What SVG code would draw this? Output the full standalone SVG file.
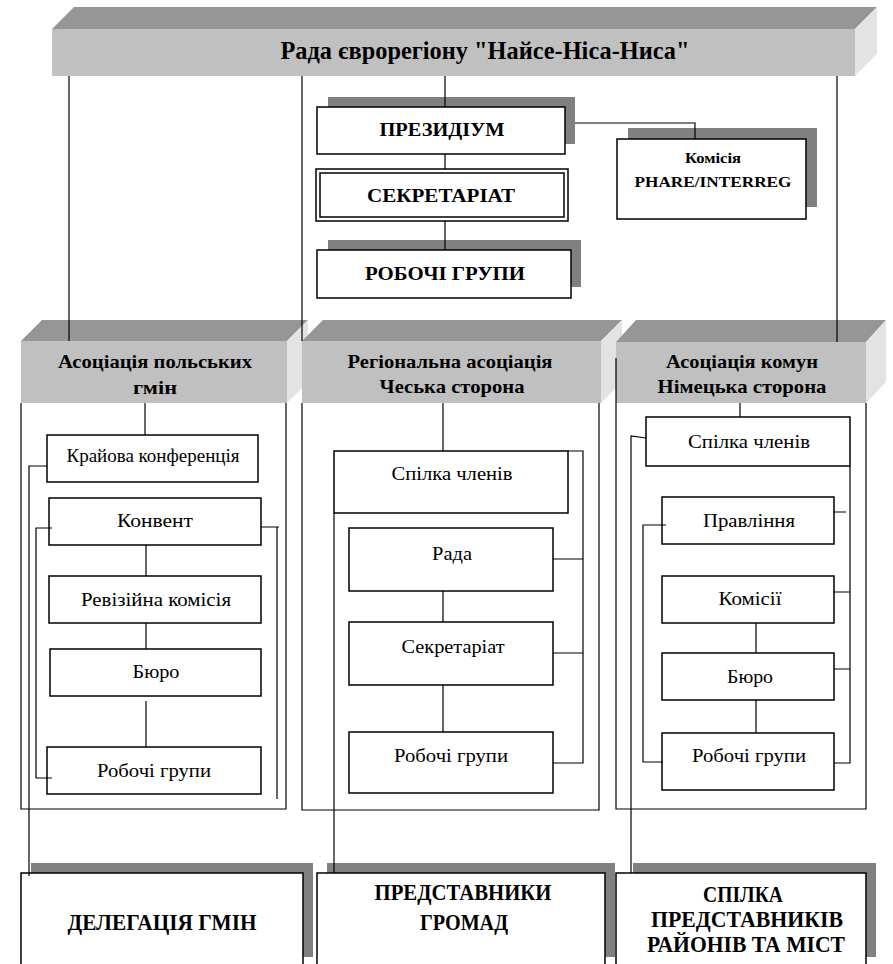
<svg xmlns="http://www.w3.org/2000/svg" width="893" height="964" viewBox="0 0 893 964">
<style>
.bg{fill:#ffffff}
.front{fill:#c0c0c0}
.top{fill:#969696}
.side{fill:#e3e3e3}
.shadow{fill:#808080}
.box{fill:#ffffff;stroke:#000;stroke-width:1.5}
.ln{fill:none;stroke:#000;stroke-width:1.2}
text{font-family:"Liberation Serif","DejaVu Serif",serif;text-anchor:middle;fill:#000}
.tb{font-weight:bold}
.h{font-size:19px}
.r{font-size:19px}
.bt{font-size:24px}
</style>
<rect class="bg" x="0" y="0" width="893" height="964"/>

<g id="rada">
<polygon class="top" points="52,29 74,7 877,7 855,29"/>
<polygon class="side" points="855,29 877,7 877,54 855,76"/>
<rect class="front" x="52" y="29" width="803" height="47"/>
<text class="tb" x="485" y="59" font-size="25" textLength="409" lengthAdjust="spacingAndGlyphs">Рада єврорегіону "Найсе-Ніса-Ниса"</text>
</g>

<g id="prezydium">
<rect class="shadow" x="328" y="97" width="247" height="47"/>
<rect class="box" x="317" y="107" width="248" height="47"/>
<text class="tb" x="442" y="136" font-size="19" textLength="125" lengthAdjust="spacingAndGlyphs">ПРЕЗИДІУМ</text>
</g>

<g id="komisia">
<rect class="shadow" x="628" y="128" width="189" height="79"/>
<rect class="box" x="617" y="139" width="189" height="80"/>
<text class="tb" x="713" y="163" font-size="15" textLength="56" lengthAdjust="spacingAndGlyphs">Комісія</text>
<text class="tb" x="713" y="187" font-size="15" textLength="157" lengthAdjust="spacingAndGlyphs">PHARE/INTERREG</text>
</g>

<g id="sekretariat">
<rect class="box" x="316" y="169" width="252" height="52" stroke-width="2"/>
<rect class="box" x="320" y="173" width="244" height="44" stroke-width="1"/>
<text class="tb" x="441" y="202" font-size="19" textLength="148" lengthAdjust="spacingAndGlyphs">СЕКРЕТАРІАТ</text>
</g>

<g id="robochi">
<rect class="shadow" x="328" y="240" width="253" height="47"/>
<rect class="box" x="317" y="250" width="254" height="48"/>
<text class="tb" x="445" y="280" font-size="19" textLength="160" lengthAdjust="spacingAndGlyphs">РОБОЧІ ГРУПИ</text>
</g>

<g id="header-pl">
<polygon class="top" points="21,341 42,320 308,320 287,341"/>
<polygon class="side" points="287,341 308,320 308,382 287,403"/>
<rect class="front" x="21" y="341" width="266" height="62"/>
<text class="tb h" x="155" y="368" textLength="194" lengthAdjust="spacingAndGlyphs">Асоціація польських</text>
<text class="tb h" x="155" y="394" textLength="44" lengthAdjust="spacingAndGlyphs">гмін</text>
</g>

<g id="header-cz">
<polygon class="top" points="302,341 323,320 622,320 601,341"/>
<polygon class="side" points="601,341 622,320 622,382 601,403"/>
<rect class="front" x="302" y="341" width="299" height="62"/>
<text class="tb h" x="450" y="368" textLength="205" lengthAdjust="spacingAndGlyphs">Регіональна асоціація</text>
<text class="tb h" x="452" y="393" textLength="145" lengthAdjust="spacingAndGlyphs">Чеська сторона</text>
</g>

<g id="header-de">
<polygon class="top" points="616,342 636,320 886,320 866,342"/>
<polygon class="side" points="866,342 886,320 886,382 866,403"/>
<rect class="front" x="616" y="342" width="250" height="61"/>
<text class="tb h" x="742" y="368" textLength="152" lengthAdjust="spacingAndGlyphs">Асоціація комун</text>
<text class="tb h" x="742" y="393" textLength="169" lengthAdjust="spacingAndGlyphs">Німецька сторона</text>
</g>

<g id="pl-kraj">
<rect class="box" x="47" y="435" width="211" height="47"/>
<text class="r" x="153" y="462" textLength="173" lengthAdjust="spacingAndGlyphs">Крайова конференція</text>
</g>
<g id="pl-konvent">
<rect class="box" x="49" y="498" width="212" height="47"/>
<text class="r" x="155" y="527" textLength="76" lengthAdjust="spacingAndGlyphs">Конвент</text>
</g>
<g id="pl-reviz">
<rect class="box" x="49" y="576" width="212" height="47"/>
<text class="r" x="156" y="606" textLength="150" lengthAdjust="spacingAndGlyphs">Ревізійна комісія</text>
</g>
<g id="pl-buro">
<rect class="box" x="50" y="649" width="211" height="47"/>
<text class="r" x="156" y="678" textLength="47" lengthAdjust="spacingAndGlyphs">Бюро</text>
</g>
<g id="pl-robochi">
<rect class="box" x="47" y="747" width="214" height="47"/>
<text class="r" x="154" y="777" textLength="114" lengthAdjust="spacingAndGlyphs">Робочі групи</text>
</g>

<g id="cz-spilka">
<rect class="box" x="334" y="451" width="234" height="62"/>
<text class="r" x="452" y="480" textLength="121" lengthAdjust="spacingAndGlyphs">Спілка членів</text>
</g>
<g id="cz-rada">
<rect class="box" x="349" y="528" width="204" height="63"/>
<text class="r" x="452" y="560" textLength="40" lengthAdjust="spacingAndGlyphs">Рада</text>
</g>
<g id="cz-sekr">
<rect class="box" x="349" y="622" width="204" height="63"/>
<text class="r" x="453" y="653" textLength="103" lengthAdjust="spacingAndGlyphs">Секретаріат</text>
</g>
<g id="cz-robochi">
<rect class="box" x="349" y="732" width="204" height="61"/>
<text class="r" x="451" y="762" textLength="114" lengthAdjust="spacingAndGlyphs">Робочі групи</text>
</g>

<g id="de-spilka">
<rect class="box" x="646" y="417" width="204" height="49"/>
<text class="r" x="749" y="448" textLength="122" lengthAdjust="spacingAndGlyphs">Спілка членів</text>
</g>
<g id="de-pravl">
<rect class="box" x="662" y="497" width="172" height="47"/>
<text class="r" x="749" y="527" textLength="92" lengthAdjust="spacingAndGlyphs">Правління</text>
</g>
<g id="de-komisii">
<rect class="box" x="662" y="576" width="172" height="47"/>
<text class="r" x="750" y="605" textLength="63" lengthAdjust="spacingAndGlyphs">Комісії</text>
</g>
<g id="de-buro">
<rect class="box" x="662" y="653" width="172" height="47"/>
<text class="r" x="750" y="683" textLength="46" lengthAdjust="spacingAndGlyphs">Бюро</text>
</g>
<g id="de-robochi">
<rect class="box" x="662" y="733" width="172" height="57"/>
<text class="r" x="749" y="762" textLength="114" lengthAdjust="spacingAndGlyphs">Робочі групи</text>
</g>

<g id="delegacia">
<rect class="shadow" x="31" y="863" width="282" height="94"/>
<rect class="box" x="21" y="873" width="282" height="100"/>
<text class="tb bt" x="162" y="930" textLength="189" lengthAdjust="spacingAndGlyphs">ДЕЛЕГАЦІЯ ГМІН</text>
</g>
<g id="predstavnyky">
<rect class="shadow" x="327" y="863" width="288" height="94"/>
<rect class="box" x="317" y="873" width="288" height="100"/>
<text class="tb bt" x="463" y="900" textLength="177" lengthAdjust="spacingAndGlyphs">ПРЕДСТАВНИКИ</text>
<text class="tb bt" x="464" y="930" textLength="88" lengthAdjust="spacingAndGlyphs">ГРОМАД</text>
</g>
<g id="spilka-predst">
<rect class="shadow" x="633" y="863" width="243" height="94"/>
<rect class="box" x="616" y="873" width="250" height="100"/>
<text class="tb bt" x="743" y="902" textLength="80" lengthAdjust="spacingAndGlyphs">СПІЛКА</text>
<text class="tb bt" x="747" y="927" textLength="192" lengthAdjust="spacingAndGlyphs">ПРЕДСТАВНИКІВ</text>
<text class="tb bt" x="746" y="952" textLength="198" lengthAdjust="spacingAndGlyphs">РАЙОНІВ ТА МІСТ</text>
</g>

<g id="connectors">
<path class="ln" d="M69,76 V341"/>
<path class="ln" d="M302,76 V341"/>
<path class="ln" d="M837,76 V342"/>
<path class="ln" d="M445,76 V107 M445,154 V169 M445,221 V250"/>
<path class="ln" d="M575,123 H695 V139"/>
<path class="ln" d="M21,403 V809 H286 V403" stroke-width="1.5"/>
<path class="ln" d="M302,403 V810 H599 V403" stroke-width="1.5"/>
<path class="ln" d="M616,358 V809 H866 V403" stroke-width="1.5"/>
<path class="ln" d="M145,403 V435"/>
<path class="ln" d="M146,545 V576 M146,623 V649 M146,701 V747"/>
<path class="ln" d="M47,466 H29 V876"/>
<path class="ln" d="M52,528 H36 V778 H52"/>
<path class="ln" d="M261,527 H279 M277,527 V799"/>
<path class="ln" d="M443,403 V451"/>
<path class="ln" d="M443,591 V622 M443,685 V732"/>
<path class="ln" d="M568,451 H583 V763 H553 M553,559 H583 M553,653 H583"/>
<path class="ln" d="M334,513 V873"/>
<path class="ln" d="M740,403 V417"/>
<path class="ln" d="M756,623 V653 M756,700 V733"/>
<path class="ln" d="M850,466 V763 H834 M834,512 H846 M834,592 H850 M834,669 H850"/>
<path class="ln" d="M646,438 L631,436 V873"/>
<path class="ln" d="M666,525 H643 V762 H663"/>
</g>
</svg>
